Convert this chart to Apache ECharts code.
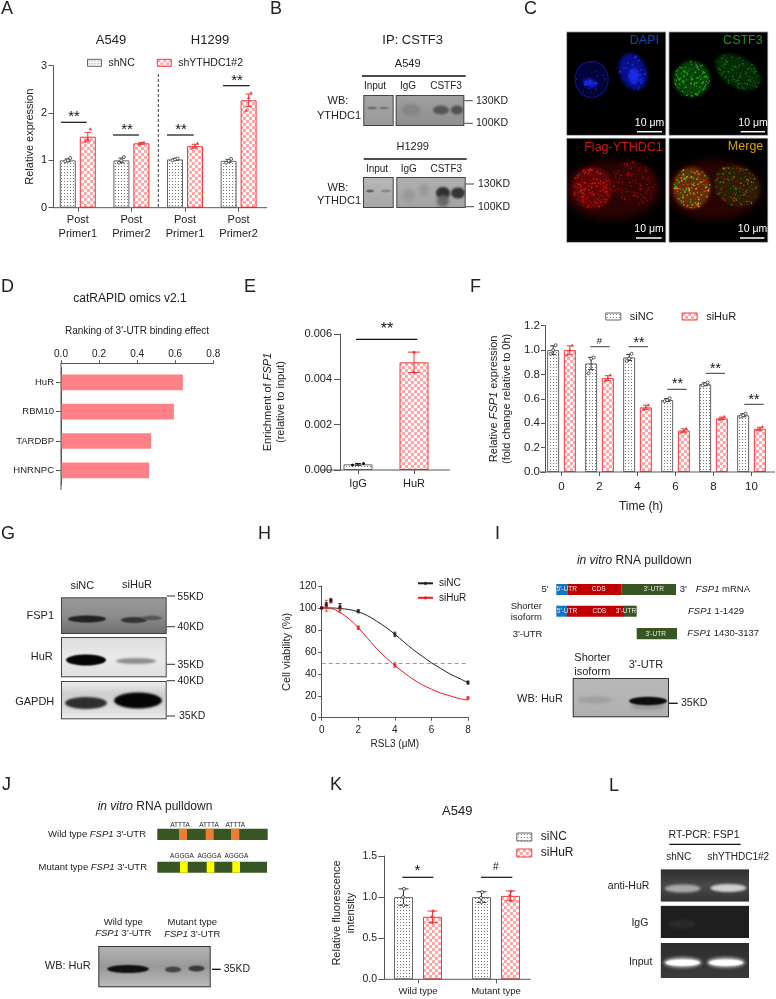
<!DOCTYPE html>
<html><head><meta charset="utf-8">
<style>html,body{margin:0;padding:0;background:#fff}#c{width:776px;height:999px}</style>
<script src="https://cdn.jsdelivr.net/npm/echarts@6/dist/echarts.min.js"></script>
</head><body><div id="c"></div>
<script>
// ---------- DATA ----------
const aCats = ['Post\nPrimer1','Post\nPrimer2','Post\nPrimer1','Post\nPrimer2'];
const aShNC = [1.0,1.0,1.02,0.99];
const aShNCErr = [0.03,0.05,0.02,0.03];
const aShNCReps = [[0.98,1.0,1.05],[0.95,1.0,1.07],[1.0,1.02,1.04],[0.95,0.99,1.03]];
const aShY = [1.5,1.36,1.3,2.27];
const aShYErr = [0.09,0.02,0.04,0.13];
const aShYReps = [[1.4,1.45,1.66],[1.34,1.36,1.38],[1.26,1.3,1.36],[2.05,2.32,2.42]];

const dCats = ['HuR','RBM10','TARDBP','HNRNPC'];
const dVals = [0.64,0.593,0.473,0.462];

const eCats = ['IgG','HuR'];
const eVals = [0.00025,0.00475];
const eErr = [0.00004,0.00045];
const eReps = [[0.00022,0.00029],[0.0043,0.0052]];

const fCats = ['0','2','4','6','8','10'];
const fNC = [1.0,0.89,0.94,0.59,0.72,0.465];
const fNCErr = [0.035,0.05,0.025,0.012,0.012,0.012];
const fNCReps = [[0.97,1.0,1.04],[0.81,0.93,0.94],[0.91,0.93,0.97],[0.58,0.59,0.605],[0.71,0.72,0.735],[0.455,0.465,0.48]];
const fKD = [1.0,0.77,0.53,0.34,0.44,0.355];
const fKDErr = [0.035,0.02,0.018,0.014,0.01,0.012];
const fKDReps = [[0.96,1.0,1.04],[0.75,0.77,0.795],[0.515,0.53,0.55],[0.325,0.34,0.355],[0.43,0.44,0.455],[0.345,0.355,0.37]];

const hNCCurve = [[0,100],[0.5,100],[1,99.5],[1.5,98.5],[2,96.5],[2.5,93],[3,88],[3.5,82.5],[4,76],[4.5,69],[5,62],[5.5,56],[6,50],[6.5,45],[7,40],[7.5,36],[8,32]];
const hKDCurve = [[0,100],[0.5,99.5],[1,96],[1.5,90],[2,82],[2.5,72.5],[3,63],[3.5,55],[4,47.5],[4.5,41],[5,35],[5.5,30],[6,26],[6.5,22.5],[7,20],[7.5,17.5],[8,16]];
const hNCPts = [[0,100,0.5],[0.25,103,2],[0.5,107,1.5],[1,101,3],[2,97,1.5],[4,76,2],[8,32,1.5]];
const hKDPts = [[0,100,0.5],[0.25,102,5],[0.5,106,1.5],[1,100,4],[2,82,1.5],[4,48,2],[8,18,1]];

const kCats = ['Wild type','Mutant type'];
const kNC = [1.0,1.0];
const kNCErr = [0.1,0.065];
const kNCReps = [[0.9,1.0,1.1],[0.94,0.99,1.06]];
const kKD = [0.76,1.015];
const kKDErr = [0.07,0.06];
const kKDReps = [[0.69,0.76,0.83],[0.96,1.02,1.07]];

// ---------- STYLE ----------
const FF = '"Liberation Sans",Arial,sans-serif';
const INK = '#222', AX = '#555', RED = '#f23a3a';
function patNC(){const c=document.createElement('canvas');c.width=c.height=3;const x=c.getContext('2d');
  x.fillStyle='#fff';x.fillRect(0,0,3,3);x.fillStyle='#777';x.fillRect(1,1,1,1);return {image:c,repeat:'repeat'};}
function patKD(){const c=document.createElement('canvas');c.width=c.height=6;const x=c.getContext('2d');
  x.fillStyle='#fff';x.fillRect(0,0,6,6);x.fillStyle='#ffa8ac';x.fillRect(0,0,3,3);x.fillRect(3,3,3,3);return {image:c,repeat:'repeat'};}
const NCS = {color:patNC(),borderColor:'#666',borderWidth:1}, KDS = {color:patKD(),borderColor:RED,borderWidth:1};
const LEGIS = {borderWidth:1};

const grids=[],xAxes=[],yAxes=[],series=[],legends=[],gfx=[];
function L(x1,y1,x2,y2,c,w,dash){gfx.push({type:'line',silent:true,z:5,shape:{x1,y1,x2,y2},style:{stroke:c||'#111',lineWidth:w||1,lineDash:dash||null}});}
function T(text,x,y,size,align,fill,rot){
  const el={type:'text',silent:true,z:6,x,y,rotation:rot||0,style:{text,x:0,y:0,fill:fill||INK,font:size+'px '+FF,align:align||'left',verticalAlign:'middle'}};
  if(text.indexOf('{')>=0) el.style.rich={n:{fontSize:size,fontFamily:FF,fill:fill||INK},i:{fontSize:size,fontFamily:FF,fontStyle:'italic',fill:fill||INK}};
  gfx.push(el);}
function R(x,y,w,h,c){gfx.push({type:'rect',silent:true,z:5,shape:{x,y,width:w,height:h},style:{fill:c}});}

// ---------- BAR PANEL HELPER ----------
function errSeries(gi,name,rows,off,color,cap){
  return {type:'custom',name,xAxisIndex:gi,yAxisIndex:gi,z:4,silent:true,clip:false,encode:{x:0,y:1},data:rows,
    renderItem(p,api){
      const i=api.value(0),m=api.value(1),e=api.value(2);
      const a=api.coord([i,m-e]),b=api.coord([i,m+e]),x=a[0]+off,st={stroke:color,lineWidth:1};
      return {type:'group',children:[
        {type:'line',shape:{x1:x,y1:a[1],x2:x,y2:b[1]},style:st},
        {type:'line',shape:{x1:x-cap,y1:a[1],x2:x+cap,y2:a[1]},style:st},
        {type:'line',shape:{x1:x-cap,y1:b[1],x2:x+cap,y2:b[1]},style:st}]};
    }};
}
function ptSeries(gi,name,rows,off,kind,jit){
  return {type:'custom',name,xAxisIndex:gi,yAxisIndex:gi,z:5,silent:true,clip:false,encode:{x:0,y:1},data:rows,
    renderItem(p,api){
      const c=api.coord([api.value(0),api.value(1)]),x=c[0]+off+jit[api.value(2)%jit.length],y=c[1];
      if(kind==='tri') return {type:'polygon',shape:{points:[[x,y-1.8],[x+1.7,y+1.2],[x-1.7,y+1.2]]},style:{fill:RED}};
      if(kind==='red') return {type:'circle',shape:{cx:x,cy:y,r:1.5},style:{fill:RED}};
      if(kind==='blk') return {type:'circle',shape:{cx:x,cy:y,r:1.5},style:{fill:'#111'}};
      return {type:'circle',shape:{cx:x,cy:y,r:1.5},style:{fill:'#fff',stroke:'#333',lineWidth:0.8}};
    }};
}
function yAxisCfg(gi,c){
  return {gridIndex:gi,type:'value',min:c.min,max:c.max,interval:c.int,offset:c.off||0,
    name:c.name,nameLocation:'middle',nameGap:c.nameGap,nameTextStyle:{rich:c.rich,color:INK,fontFamily:FF,fontSize:c.nameSize||11,lineHeight:c.nameLH||13},
    axisLine:{show:true,onZero:false,lineStyle:{color:AX,width:1}},axisTick:{show:true,length:c.tick||4,lineStyle:{color:AX}},
    splitLine:{show:false},axisLabel:{color:INK,fontFamily:FF,fontSize:c.size||11,margin:c.margin||6,formatter:v=>v.toFixed(c.dec||0)}};
}
function barPanel(c){
  const gi=grids.length;
  grids.push({left:c.left,top:c.top,width:c.width,height:c.height});
  xAxes.push({gridIndex:gi,type:'category',data:c.cats,
    axisLine:{show:false},axisTick:{show:true,alignWithLabel:true,length:4,lineStyle:{color:AX}},
    axisLabel:{color:INK,fontFamily:FF,fontSize:c.xSize||11,margin:c.xMargin||6,lineHeight:c.xLH||13,interval:0}});
  yAxes.push(yAxisCfg(gi,c.y));
  L(c.axisX,c.top+c.height,c.axisEnd,c.top+c.height,AX,1);
  const n=c.groups.length;
  c.groups.forEach((g,j)=>{
    const off=(j-(n-1)/2)*(c.barW+c.gap);
    series.push({type:'bar',name:g.name,xAxisIndex:gi,yAxisIndex:gi,barWidth:c.barW,barGap:(c.gap/c.barW*100)+'%',
      itemStyle:g.style,data:g.vals,z:2,silent:true,animation:false});
    series.push(errSeries(gi,g.name+' error',g.vals.map((v,i)=>[i,v,g.err[i]]),off,g.errColor,c.cap||3));
    const rows=[];g.reps.forEach((r,i)=>r.forEach((v,k)=>rows.push([i,v,k])));
    series.push(ptSeries(gi,g.name+' points',rows,off,g.kind,c.jit||[-2.5,0,2.5]));
  });
}

// ---------- PANEL A ----------
barPanel({left:51,top:65.7,width:214.4,height:142,axisX:53,axisEnd:267,cats:aCats,barW:16,gap:4,
  xMargin:6,xSize:11,xLH:13.5,
  y:{min:0,max:3,int:1,off:-2,name:'Relative expression',nameGap:17,size:11,margin:6,tick:4.5},
  groups:[{name:'shNC',vals:aShNC,err:aShNCErr,reps:aShNCReps,style:NCS,errColor:'#444',kind:'open'},
          {name:'shYTHDC1#2',vals:aShY,err:aShYErr,reps:aShYReps,style:KDS,errColor:RED,kind:'tri'}]});
legends.push({data:['shNC','shYTHDC1#2'],left:87,top:57.3,padding:0,itemWidth:14,itemHeight:7,itemGap:22,icon:'rect',selectedMode:false,itemStyle:LEGIS,
  textStyle:{color:INK,fontFamily:FF,fontSize:10.5,padding:[0,0,0,2]}});
T('A',1,9,18);T('A549',111,40.7,13,'center');T('H1299',210,40.7,13,'center');
L(158.3,74,158.3,207.7,'#222',0.9,[3,2]);
[[61,86.7,122.3,74,115],[113,139,135,127,128],[167,193.7,135,181,128],[223,249.7,85.7,237,79.5]].forEach(s=>{L(s[0],s[2],s[1],s[2],'#111',1.2);T('**',s[3],s[4]+1.5,15,'center','#111');});

// ---------- PANEL D ----------
{const gi=grids.length;
 grids.push({left:61,top:367.7,width:152.3,height:117.3});
 xAxes.push({gridIndex:gi,type:'value',position:'top',offset:4.4,min:0,max:0.8,interval:0.2,
   axisLine:{show:true,onZero:false,lineStyle:{color:AX}},axisTick:{show:true,length:3,lineStyle:{color:AX}},splitLine:{show:false},
   axisLabel:{color:INK,fontFamily:FF,fontSize:10,margin:4,formatter:v=>v.toFixed(1)}});
 yAxes.push({gridIndex:gi,type:'category',inverse:true,data:dCats,
   axisLine:{show:true,onZero:false,lineStyle:{color:AX}},axisTick:{show:true,alignWithLabel:true,length:5,lineStyle:{color:AX}},
   axisLabel:{color:INK,fontFamily:FF,fontSize:9.5,margin:7,interval:0}});
 series.push({type:'bar',name:'Binding effect',xAxisIndex:gi,yAxisIndex:gi,data:dVals,barWidth:15.7,itemStyle:{color:'#ff8087'},silent:true});
}
L(61,363.3,61,490,AX,1);
T('D',1,287,18);T('catRAPID omics v2.1',130,299,12,'center');T("Ranking of 3'-UTR binding effect",137,331,10,'center');

// ---------- PANEL E ----------
barPanel({left:330,top:334,width:112,height:136,axisX:320,axisEnd:450,cats:eCats,barW:29,gap:0,xSize:11,xMargin:7,cap:6,jit:[0,0],
  y:{min:0,max:0.006,int:0.002,off:-10,dec:3,size:11,margin:8,tick:6,nameGap:52,nameLH:13.5,
     name:'{n|Enrichment of }{i|FSP1}\n{n|(relative to input)}',
     rich:{n:{fontSize:11,fontFamily:FF,color:INK,lineHeight:13.5},i:{fontSize:11,fontFamily:FF,fontStyle:'italic',color:INK,lineHeight:13.5}}},
  groups:[{name:'Enrichment',vals:[{value:eVals[0],itemStyle:NCS},{value:eVals[1],itemStyle:KDS}],err:[0,0],reps:[],style:{},errColor:'rgba(0,0,0,0)',kind:'blk'}]});
// E: replicates and error, coloured per category
series.push(errSeries(grids.length-1,'E IgG error',[[0,eVals[0],eErr[0]]],0,'#111',3));
series.push(errSeries(grids.length-1,'E HuR error',[[1,eVals[1],eErr[1]]],0,RED,6));
series.push(ptSeries(grids.length-1,'E IgG points',eReps[0].map((v,k)=>[0,v,k]),0,'blk',[-5.5,5.5]));
series.push(ptSeries(grids.length-1,'E HuR points',eReps[1].map((v,k)=>[1,v,k]),0,'red',[0,0]));
T('E',244,287,18);
L(356,339.3,417.3,339.3,'#111',1.2);T('**',387,330,16,'center','#111');

// ---------- PANEL F ----------
barPanel({left:542.5,top:325.7,width:228,height:146.3,axisX:540,axisEnd:775,cats:fCats,barW:12,gap:4.7,xSize:11.5,xMargin:8,cap:3,
  y:{min:0,max:1.2,int:0.2,off:-2.5,dec:1,size:11.5,margin:5,nameGap:31.5,nameLH:13,
     name:'{n|Relative }{i|FSP1}{n| expression}\n{n|(fold change relative to 0h)}',
     rich:{n:{fontSize:11,fontFamily:FF,color:INK,lineHeight:13},i:{fontSize:11,fontFamily:FF,fontStyle:'italic',color:INK,lineHeight:13}}},
  groups:[{name:'siNC',vals:fNC,err:fNCErr,reps:fNCReps,style:NCS,errColor:'#333',kind:'open'},
          {name:'siHuR',vals:fKD,err:fKDErr,reps:fKDReps,style:KDS,errColor:RED,kind:'tri'}]});
legends.push({data:['siNC','siHuR'],left:605.3,top:311,padding:0,itemWidth:15,itemHeight:7,itemGap:28,icon:'rect',selectedMode:false,itemStyle:LEGIS,
  textStyle:{color:INK,fontFamily:FF,fontSize:11,padding:[0,0,0,4]}});
T('F',470,287,18);T('Time (h)',641,507,12,'center');
[[590.3,609.7,346.7,'#',599.5,341],[628.7,648,346.7,'**',639,343],[667.3,686.7,389.3,'**',677.5,384.5],[705.7,725,373.3,'**',715.5,369],[744.3,763.7,404.3,'**',754,400]].forEach(s=>{
  L(s[0],s[2],s[1],s[2],'#222',0.9);T(s[3],s[4],s[5],s[3]==='#'?9.5:14,'center','#111');});

// ---------- PANEL H ----------
{const gi=grids.length;
 grids.push({left:321.7,top:586,width:146.3,height:131.7});
 xAxes.push({gridIndex:gi,type:'value',min:0,max:8,interval:2,name:'RSL3 (μM)',nameLocation:'middle',nameGap:22,
   nameTextStyle:{color:INK,fontFamily:FF,fontSize:10},
   axisLine:{show:true,onZero:false,lineStyle:{color:AX}},axisTick:{show:true,length:3,lineStyle:{color:AX}},splitLine:{show:false},
   axisLabel:{color:INK,fontFamily:FF,fontSize:10,margin:8}});
 yAxes.push(yAxisCfg(gi,{min:0,max:120,int:20,name:'Cell viability (%)',nameGap:28,nameSize:11,size:10.5,margin:5,tick:3.5}));
 const line=(name,d,col,ml)=>({type:'line',name,xAxisIndex:gi,yAxisIndex:gi,data:d,smooth:0.35,showSymbol:false,symbol:'circle',symbolSize:3,
   lineStyle:{color:col,width:1},itemStyle:{color:col},silent:true,z:3,
   markLine:ml?{silent:true,symbol:'none',label:{show:false},lineStyle:{color:'#999',type:[4,3],width:1},data:[{yAxis:50}]}:undefined});
 series.push(line('siNC ',hNCCurve,'#222',true));
 series.push(line('siHuR ',hKDCurve,'#f01818',false));
 const errs=(name,d,col)=>({type:'custom',name,xAxisIndex:gi,yAxisIndex:gi,z:4,silent:true,clip:false,encode:{x:0,y:1},data:d,
   renderItem(p,api){const a=api.coord([api.value(0),api.value(1)-api.value(2)]),b=api.coord([api.value(0),api.value(1)+api.value(2)]),st={stroke:col,lineWidth:0.8};
     return {type:'group',children:[{type:'line',shape:{x1:a[0],y1:a[1],x2:b[0],y2:b[1]},style:st},
       {type:'line',shape:{x1:a[0]-1.5,y1:a[1],x2:a[0]+1.5,y2:a[1]},style:st},{type:'line',shape:{x1:b[0]-1.5,y1:b[1],x2:b[0]+1.5,y2:b[1]},style:st}]};}});
 series.push(errs('siHuR error',hKDPts,'#f01818'));
 series.push(errs('siNC error',hNCPts,'#222'));
 series.push({type:'scatter',name:'siHuR pts',xAxisIndex:gi,yAxisIndex:gi,data:hKDPts.map(p=>[p[0],p[1]]),symbol:'rect',symbolSize:3,itemStyle:{color:'#f01818'},silent:true,clip:false,z:5});
 series.push({type:'scatter',name:'siNC pts',xAxisIndex:gi,yAxisIndex:gi,data:hNCPts.map(p=>[p[0],p[1]]),symbol:'rect',symbolSize:3,itemStyle:{color:'#111'},silent:true,clip:false,z:6});
}
legends.push({data:['siNC ','siHuR '],left:417,top:578.3,padding:0,orient:'vertical',itemWidth:15,itemHeight:4,itemGap:4.5,selectedMode:false,
  textStyle:{color:INK,fontFamily:FF,fontSize:10,padding:[0,0,0,1]}});
T('H',258,534,18);

// ---------- PANEL K ----------
barPanel({left:379,top:856,width:156,height:123.3,axisX:384,axisEnd:530.7,cats:kCats,barW:19,gap:10,xSize:9.5,xMargin:6,cap:5,jit:[0,-0.5,0.5],
  y:{min:0,max:1.5,int:0.5,off:-5,dec:1,size:10.5,margin:7,tick:5.7},
  groups:[{name:'siNC',vals:kNC,err:kNCErr,reps:kNCReps,style:NCS,errColor:'#333',kind:'open'},
          {name:'siHuR',vals:kKD,err:kKDErr,reps:kKDReps,style:KDS,errColor:RED,kind:'red'}]});
legends.push({data:['siNC','siHuR'],left:516.3,top:831,padding:0,orient:'vertical',itemWidth:15,itemHeight:8,itemGap:4,icon:'rect',selectedMode:false,itemStyle:LEGIS,
  textStyle:{color:INK,fontFamily:FF,fontSize:12,padding:[0,0,0,4]}});
T('K',330,785,18);T('A549',457.3,811.7,13,'center');
T('Relative fluorescence',337.3,913,11,'center',INK,Math.PI/2);T('intensity',351,913,11,'center',INK,Math.PI/2);
L(402.3,877.3,433.3,877.3,'#111',1.2);T('*',417.3,871,15,'center','#111');
L(481,877.3,512.3,877.3,'#111',1.2);T('#',495.7,867.5,10,'center','#111');

// ---------- PHOTOS: blots, gels, micrographs ----------
const photo=document.createElement('canvas');const PS=2;photo.width=776*PS;photo.height=999*PS;
const P=photo.getContext('2d');P.scale(PS,PS);
function hash(i){const s=Math.sin(i*12.9898+4.1)*43758.5453;return s-Math.floor(s);}
function blot(x,y,w,h,bg,bands,border){
  P.save();P.beginPath();P.rect(x,y,w,h);P.clip();
  const g=P.createLinearGradient(0,y,0,y+h);bg.forEach((c,i)=>g.addColorStop(bg.length>1?i/(bg.length-1):0,c));
  P.fillStyle=g;P.fillRect(x,y,w,h);
  bands.forEach(b=>{P.filter='blur('+(b[5]||1.5)+'px)';P.fillStyle=b[4];P.beginPath();P.ellipse(b[0],b[1],b[2],b[3],0,0,Math.PI*2);P.fill();});
  P.filter='none';P.restore();
  if(border!==null){P.strokeStyle=border||'#444';P.lineWidth=1;P.strokeRect(x+.5,y+.5,w-1,h-1);}
}
function nucleus(cx,cy,rx,ry,rot,glow,dot,n,seed,ds){
  P.save();P.translate(cx,cy);P.rotate(rot);
  P.filter='blur(3px)';P.fillStyle=glow;P.beginPath();P.ellipse(0,0,rx,ry,0,0,Math.PI*2);P.fill();P.filter='blur(0.6px)';
  dot.forEach((col,ci)=>{P.fillStyle=col;
    for(let i=0;i<n;i++){const a=hash(seed+i*3+ci*1000)*6.283,r=Math.sqrt(hash(seed+i*3+1+ci*1000))*0.97;
      const s=(ds||1)*(0.4+hash(seed+i*3+2+ci*1000)*0.8);
      P.beginPath();P.arc(Math.cos(a)*r*rx,Math.sin(a)*r*ry,s,0,6.283);P.fill();}});
  P.restore();P.filter='none';
}
function panel(x,y,w,h,fn){P.save();P.beginPath();P.rect(x,y,w,h);P.clip();P.fillStyle='#000';P.fillRect(x,y,w,h);fn();P.restore();
  P.strokeStyle='#9a9a9a';P.lineWidth=0.8;P.strokeRect(x,y,w,h);}

// B
blot(363.3,95,30.4,31,['#a5a5a5','#9a9a9a'],[[372,108,5,1.3,'#6a6a6a',1],[384,108,5,1.3,'#757575',1]]);
blot(395.7,95,68.6,31,['#a0a0a0','#8f8f8f'],[[411,110,9,6,'#858585',3],[441,110,8,4.5,'#555',2.2],[457,110,6,4.5,'#505050',2.2]]);
blot(363,177,30.7,31,['#b8b8b8','#a6a6a6'],[[370,191,4,1.3,'#555',1],[386,191,5,1.2,'#808080',1]]);
blot(396.3,177,69.4,31,['#b0b0b0','#a3a3a3'],[[409,195,6,6,'#999',3],[424,190,5,6,'#999',3],[443,193,7,6,'#303030',2.2],[458,193,7,5.5,'#353535',2.2],[443,201,6,6,'#666',3]]);
// C
panel(566.7,32,99,103.3,()=>{
  P.strokeStyle='#0d1cb8';P.lineWidth=0.8;
  nucleus(591.7,79.3,16.5,18,0,'#02033a',['#1222b0'],16,1,0.8);
  nucleus(590,83,7,4,0.2,'#1222d8',['#1e30f0'],10,90,1);
  P.beginPath();P.ellipse(591.7,79.3,16.5,18,0,0,6.283);P.stroke();
  nucleus(633,71.7,13.5,19,-0.35,'#080f8a',['#1a2ce0'],30,200,1);
  nucleus(634,76,5,8,0,'#1a2ce8',['#2236ff'],8,300,1);
});
panel(669,32,98.7,103.3,()=>{
  nucleus(691.7,79,18.5,18,0,'#084008',['#169016','#22b022'],85,400,0.75);
  nucleus(738,72,25,15,0.55,'#052805',['#0f700f','#158515'],85,600,0.65);
});
panel(566.7,138.3,99,104,()=>{
  P.filter='blur(8px)';P.fillStyle='#2a0303';P.beginPath();P.ellipse(612,190,48,30,0,0,6.283);P.fill();P.filter='none';
  nucleus(593,188,21,21,0,'#5a0606',['#a00e0e','#e01818'],110,800,0.75);
  nucleus(634,183,24,21,0.5,'#330404',['#7d0a0a','#aa0e0e'],90,1100,0.65);
});
panel(669,138.3,98.7,104,()=>{
  P.filter='blur(8px)';P.fillStyle='#2a0303';P.beginPath();P.ellipse(714,190,48,30,0,0,6.283);P.fill();P.filter='none';
  nucleus(691.7,188,19,21,0,'#5e2e06',['#c01c10','#2ab82a','#c8a214'],65,1400,0.8);
  nucleus(736.7,186,24,20,0.5,'#2c1c05',['#901510','#1f8a1f','#8c7812'],60,1800,0.7);
});
// G
blot(61,597.3,105.7,36.7,['#9a9a9a','#8d8d8d','#6e6e6e'],[[87,619,19,3.5,'#222',1.5],[134,620,13,3,'#333',1.5],[152,618,10,2.2,'#555',1.5]]);
blot(61,637,105.7,40.3,['#dedede','#eaeaea','#e0e0e0'],[[86,660,20,5.5,'#050505',1.8],[136,661,20,3,'#8e8e8e',2]]);
blot(61,681,105.7,38.3,['#f0f0f0','#cfcfcf','#d8d8d8','#eeeeee'],[[86,703,21,6,'#2e2e2e',2.2],[138,700.5,24,8,'#050505',2]]);
// I
blot(572.7,678,96.3,39.3,['#b9b9b9','#b0b0b0'],[[595,700,17,3.5,'#a0a0a0',2.5],[648,706,17,4,'#999',3],[648,701,19,4.2,'#0e0e0e',1.8]],'#333');
// J
blot(98.3,946,112.4,41.3,['#b4b4b4','#999','#bdbdbd'],[[128,969,21,4,'#111',1.8],[173,969.5,8,3,'#444',1.6],[196.5,968.5,8,3,'#3a3a3a',1.6]],'#333');
// L
blot(660.7,869.3,88.3,32.4,['#2d2d2d','#4a4a4a','#333'],[[682.7,888.5,18,4,'#aaa',2.5],[728.3,888,18,4,'#cfcfcf',2.2]],null);
blot(660.7,905.7,88.3,32.3,['#1e1e1e','#1e1e1e'],[[682,924,14,4,'#2c2c2c',3]],null);
blot(660.7,943,88.3,35,['#2e2e2e','#3a3a3a'],[[682.7,962.5,19,5,'#c8c8c8',3],[726,962.5,19,5,'#c8c8c8',3],[682.7,962.7,17,3.2,'#fff',1.2],[726,962.7,17,3.2,'#fff',1.2]],null);
gfx.push({type:'image',silent:true,z:1,style:{image:photo,x:0,y:0,width:776,height:999}});

// ---------- TEXT & SCHEMATICS ----------
const KD=(t,x,y,a)=>T(t,x,y,10.5,a||'left');
// B text
T('B',270,9,18);T('IP: CSTF3',412.7,40,13,'center');
T('A549',407.7,64,11,'center');L(362,76,465.7,76,'#111',1.5);
T('Input',375,86,10,'center');T('IgG',408,86,10,'center');T('CSTF3',446,86,10,'center');
T('WB:',338,101,11,'center');T('YTHDC1',339,115.7,11,'center');
L(464.3,100.7,472.7,100.7,'#444',1);L(464.3,123.3,472.7,123.3,'#444',1);KD('130KD',476,101);KD('100KD',476,123.5);
T('H1299',412.7,147.3,11,'center');L(363.7,159,466.7,159,'#111',1.5);
T('Input',377,169,10,'center');T('IgG',408.7,169,10,'center');T('CSTF3',446.3,169,10,'center');
T('WB:',338,187.7,11,'center');T('YTHDC1',339,201,11,'center');
L(465.7,184,474,184,'#444',1);L(465.7,206.7,474,206.7,'#444',1);KD('130KD',478,184.5);KD('100KD',478,207);
// C text
T('C',524,9,18);
T('DAPI',659,41,12.5,'right','#0d47b5');T('CSTF3',762.7,41,12.5,'right','#169a16');
T('Flag-YTHDC1',662.7,147.7,12.5,'right','#d81414');T('Merge',763.3,147,12.5,'right','#d9a200');
[[649.5,123,637,662,131.7],[753,123,740.7,765,131.7],[649,229,636,661.7,238],[752.5,229,740,764.3,238]].forEach(s=>{T('10 μm',s[0],s[1],10.5,'center','#fff');L(s[2],s[4],s[3],s[4],'#fff',1.5);});
// G text
T('G',1,534,18);T('siNC',82.3,585.7,11,'center');T('siHuR',137,585,11,'center');
T('FSP1',54,615.7,11,'right');T('HuR',52.7,657.3,11,'right');T('GAPDH',54.3,701.7,11,'right');
L(166.7,596,175,596,'#333',1);L(166.7,626.7,175,626.7,'#333',1);L(166.7,664.3,175,664.3,'#333',1);L(166.7,680.7,175,680.7,'#333',1);L(166.7,716,175,716,'#333',1);
KD('55KD',177.3,597);KD('40KD',177.5,627);KD('35KD',177.5,665);KD('40KD',177.5,681);KD('35KD',179,716.5);
// I
T('I',495,534,18);T('{i|in vitro}{n| RNA pulldown}',634.3,561,12,'center');
const BLUE='#0f75c4',CRED='#c00000',GRN='#375623';
R(556.3,584,11,11,BLUE);R(567.3,584,54.4,11,CRED);R(621.7,584,54.3,11,GRN);
R(556.3,605.7,10.7,11,BLUE);R(567,605.7,57,11,CRED);R(624,605.7,12.7,11,GRN);
R(636.7,628,40.3,11.3,GRN);
const W=(t,x,y)=>T(t,x,y,6.5,'center','#f2e6e6');
W("5'-UTR",566.7,589.5);W('CDS',598.7,589.5);W("3'-UTR",653.7,589.5);
W("5'-UTR",567,611.2);W('CDS',599.3,611.2);W("3'-UTR",626,611.2);W("3'-UTR",655.7,634);
T("5'",545,589,9.5,'center');T("3'",683.3,589,9.5,'center');T('{i|FSP1}{n| mRNA}',695.7,589,9.5);
T('Shorter',510.7,606.3,9.5);T('isoform',510.7,617.7,9.5);T('{i|FSP1}{n| 1-1429}',688,611.7,9.5);
T("3'-UTR",512.7,634,9.5);T('{i|FSP1}{n| 1430-3137}',687.3,633,9.5);
T('Shorter',574.3,658.3,11);T('isoform',574.3,671.7,11);T("3'-UTR",646,665,11,'center');
T('WB: HuR',540,699,11,'center');L(669,703.3,677.7,703.3,'#111',1.3);KD('35KD',681,703.5);
// J
T('J',2,785,18);T('{i|in vitro}{n| RNA pulldown}',155,806.7,12,'center');
T('{n|Wild type }{i|FSP1}{n| 3\'-UTR}',146,834.7,9.5,'right');T('{n|Mutant type }{i|FSP1}{n| 3\'-UTR}',147,867,9.5,'right');
R(157.3,828.7,110.4,11.3,GRN);R(157.3,861.7,109.7,11,GRN);
[[179,8],[205.7,8],[231,8.3]].forEach(s=>R(s[0],828.7,s[1],11.3,'#ed7d31'));
[[180,7.7],[206.7,7.6],[232.3,7.7]].forEach(s=>R(s[0],861.7,s[1],11,'#ffff00'));
[180,209,235.3].forEach(x=>T('ATTTA',x,825,6.5,'center'));[182,209.3,236.3].forEach(x=>T('AGGGA',x,856.7,6.5,'center'));
T('Wild type',123.3,922.3,9.5,'center');T('{i|FSP1}{n| 3\'-UTR}',123.3,933.7,9.5,'center');
T('Mutant type',192.3,922.7,9.5,'center');T('{i|FSP1}{n| 3\'-UTR}',192.3,934.3,9.5,'center');
T('WB: HuR',67.7,965.7,11,'center');L(212,969.3,220.7,969.3,'#111',1.3);KD('35KD',223.7,969.5);
// L
T('L',609,786,18);T('RT-PCR: FSP1',704,835,10.5,'center');L(669.3,844.3,740.7,844.3,'#111',1.3);
T('shNC',678.7,857.3,10,'center');T('shYTHDC1#2',738.3,857.3,10,'center');
T('anti-HuR',649.3,886,10.5,'right');T('IgG',648.3,922.7,10.5,'right');T('Input',652.3,962,10.5,'right');

// ---------- CHART ----------
const chart=echarts.init(document.getElementById('c'),null,{renderer:'canvas'});
chart.setOption({animation:false,backgroundColor:'#fff',textStyle:{fontFamily:FF},
  grid:grids,xAxis:xAxes,yAxis:yAxes,series,legend:legends,tooltip:{show:false},graphic:{elements:gfx}});
</script></body></html>
